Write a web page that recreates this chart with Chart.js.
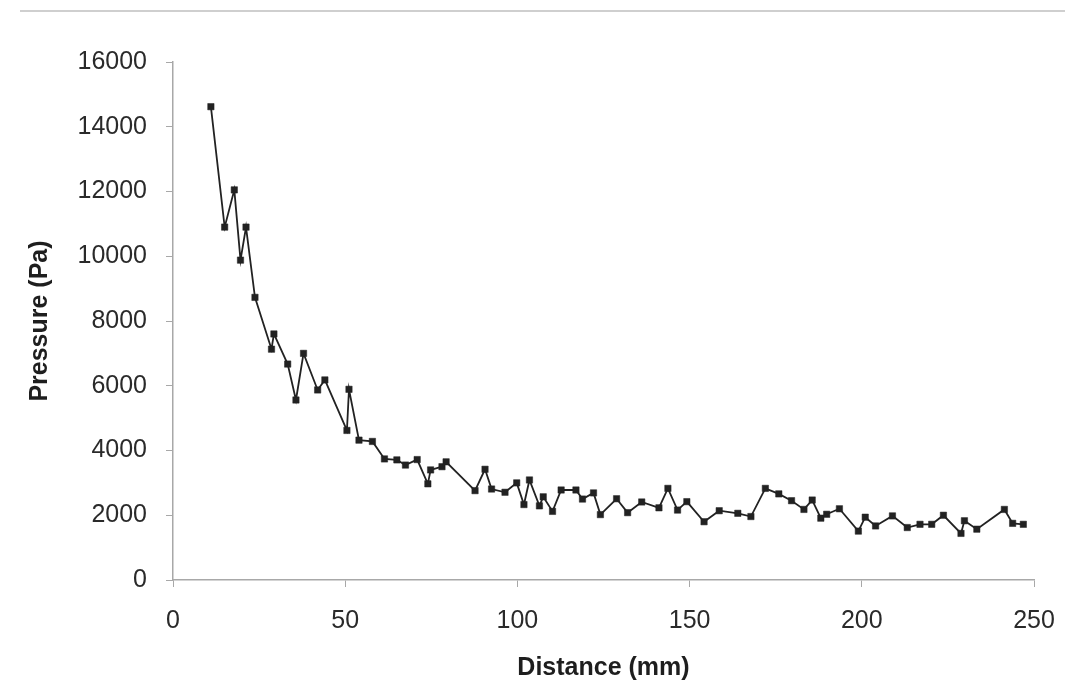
<!DOCTYPE html>
<html>
<head>
<meta charset="utf-8">
<title>Pressure vs distance</title>
<script src="https://cdn.jsdelivr.net/npm/chart.js@4/dist/chart.umd.min.js"></script>
<style>
  html, body { margin: 0; padding: 0; background: #fff; }
  #wrap { position: relative; width: 1075px; height: 695px; }
  #topRule { position: absolute; left: 20px; right: 10px; top: 10px; height: 0; border-top: 2px solid #cfcfcf; }
  canvas { position: absolute; left: 0; top: 0; }
</style>
</head>
<body>
<div id="wrap">
  <div id="topRule"></div>
  <canvas id="pressureChart" width="1075" height="695"></canvas>
</div>
<script>
// measured points: distance along the surface (mm) and pressure (Pa)
const distanceMm = [
  11.0, 15.0, 17.8, 19.6, 21.2, 23.8, 28.6, 29.3, 33.3, 35.7,
  37.9, 42.0, 44.1, 50.5, 51.1, 54.0, 57.9, 61.4, 65.0, 67.5,
  70.9, 74.0, 74.8, 78.1, 79.3, 87.7, 90.6, 92.5, 96.4, 99.8,
  101.9, 103.5, 106.4, 107.5, 110.2, 112.7, 117.0, 118.9, 122.1, 124.1,
  128.8, 132.0, 136.1, 141.1, 143.7, 146.5, 149.2, 154.2, 158.6, 164.0,
  167.8, 172.0, 175.9, 179.6, 183.2, 185.6, 188.1, 189.8, 193.5, 199.0,
  201.0, 204.0, 208.9, 213.2, 216.9, 220.3, 223.7, 228.8, 229.8, 233.4,
  241.4, 243.8, 246.9
];
const pressurePa = [
  14620, 10900, 12050, 9880, 10900, 8730, 7130, 7600, 6670, 5560,
  7000, 5870, 6180, 4620, 5890, 4320, 4280, 3740, 3710, 3550,
  3720, 2970, 3400, 3500, 3650, 2760, 3420, 2810, 2710, 3000,
  2330, 3090, 2290, 2570, 2120, 2780, 2780, 2500, 2690, 2020,
  2510, 2080, 2410, 2230, 2830, 2160, 2420, 1800, 2140, 2060,
  1960, 2830, 2660, 2450, 2180, 2470, 1910, 2030, 2200, 1510,
  1940, 1670, 1980, 1620, 1720, 1720, 2000, 1440, 1830, 1570,
  2180, 1750, 1720
];

// axis ticks
const xTicks = [0, 50, 100, 150, 200, 250];
const yTicks = [0, 2000, 4000, 6000, 8000, 10000, 12000, 14000, 16000];

const points = distanceMm.map((d, i) => ({ x: d, y: pressurePa[i] }));

const axisGrey = "#a8a8a8";
const labelFont = { family: "Liberation Sans, Arial, sans-serif", size: 25 };
const titleFont = { family: "Liberation Sans, Arial, sans-serif", size: 25, weight: "bold" };
const plainNumber = (v) => String(v);

const config = {
  type: "line",
  data: {
    datasets: [
      {
        data: points,
        borderColor: "#222",
        backgroundColor: "#222",
        borderWidth: 1.8,
        pointStyle: "rect",
        pointRadius: 4.5,
        pointBorderWidth: 0.5,
        pointBorderColor: "#222",
        tension: 0,
      },
    ],
  },
  options: {
    responsive: false,
    animation: false,
    layout: { padding: { left: 0, top: 62, right: 41, bottom: 0 } },
    plugins: { legend: { display: false }, tooltip: { enabled: false } },
    scales: {
      x: {
        type: "linear",
        min: xTicks[0],
        max: xTicks[xTicks.length - 1],
        afterBuildTicks: (s) => { s.ticks = xTicks.map((v) => ({ value: v })); },
        afterFit: (s) => { s.height = 115; },
        grid: { display: true, drawOnChartArea: false, drawTicks: true, tickLength: 7, color: axisGrey },
        border: { display: true, color: axisGrey, width: 1.5 },
        ticks: { color: "#2a2a2a", font: labelFont, padding: 19, maxRotation: 0, callback: plainNumber },
        title: { display: true, text: "Distance (mm)", color: "#1e1e1e", font: titleFont, padding: { bottom: 12 } },
      },
      y: {
        min: yTicks[0],
        max: yTicks[yTicks.length - 1],
        afterBuildTicks: (s) => { s.ticks = yTicks.map((v) => ({ value: v })); },
        afterFit: (s) => { s.width = 173; },
        grid: { display: true, drawOnChartArea: false, drawTicks: true, tickLength: 7, color: axisGrey },
        border: { display: true, color: axisGrey, width: 1.5 },
        ticks: { color: "#2a2a2a", font: labelFont, padding: 19, callback: plainNumber },
        title: { display: true, text: "Pressure (Pa)", color: "#1e1e1e", font: titleFont, padding: { top: 25 } },
      },
    },
  },
};

const ctx = document.getElementById("pressureChart").getContext("2d");
const pressureChart = new Chart(ctx, config);
</script>
</body>
</html>
